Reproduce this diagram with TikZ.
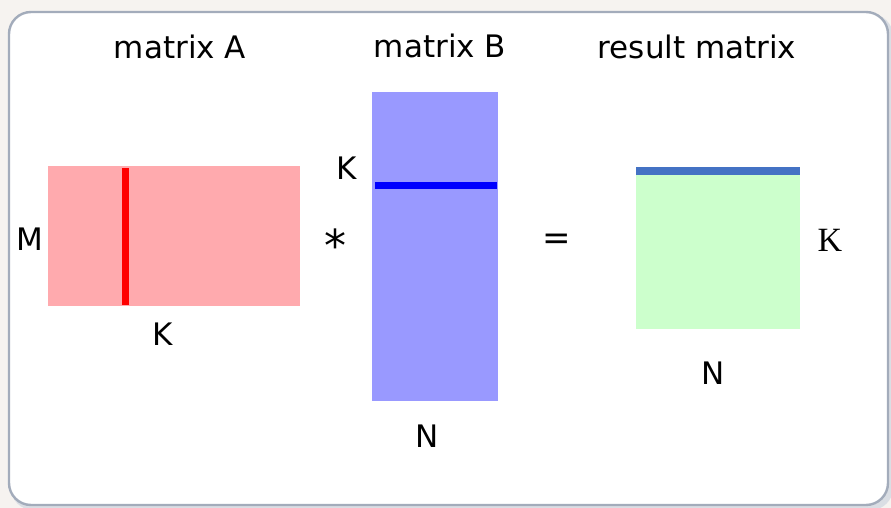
\documentclass[tikz,border=0pt]{standalone}
\usepackage{fontspec}
\setmainfont{DejaVu Sans}
\newfontfamily\serifK{Liberation Serif}
\usepackage{xcolor}
\usetikzlibrary{positioning}

\definecolor{pageback}{RGB}{246,243,240}
\definecolor{framegray}{RGB}{163,172,187}
\definecolor{pinkA}{RGB}{255,170,174}
\definecolor{blueB}{RGB}{153,153,255}
\definecolor{greenC}{RGB}{204,255,204}
\definecolor{rowblue}{RGB}{68,114,196}

\begin{document}
\begin{tikzpicture}[x=1pt, y=-1pt,
        lbl/.style={inner sep=0pt, font=\fontsize{31}{34}\selectfont},
        mat/.style={rectangle, inner sep=0pt, outer sep=0pt},
        bar/.style={line width=7pt}]
    \useasboundingbox (0,0) rectangle (891,508);
    \fill[pageback] (0,0) rectangle (891,508);
    % frame with a soft shadow
    \fill[framegray!40, rounded corners=22pt] (11,14) rectangle (893,510);
    \filldraw[fill=white, draw=framegray, line width=2.4pt, rounded corners=22pt] (9,12) rectangle (888,505);

    % titles
    \node (tA) [lbl] at (180,47) {matrix A};
    \node (tB) [lbl] at (440,46) {matrix B};
    \node (tC) [lbl] at (697,47) {result matrix};

    % the three matrices
    \node (matA) [mat, fill=pinkA, minimum width=252pt, minimum height=140pt] at (174,236) {};
    \node (matB) [mat, fill=blueB, minimum width=126pt, minimum height=309pt] at (435,246.5) {};
    \node (matC) [mat, fill=greenC, minimum width=164pt, minimum height=162pt] at (718,248) {};

    % column of A, row of B, row of result
    \draw[bar, red] (125.5,168) -- (125.5,305);
    \draw[bar, blue] (375,185.5) -- (497,185.5);
    \draw[line width=8pt, rowblue] (636,171) -- (800,171);

    % dimension labels
    \node (dM) [lbl] at (30,239) {M};
    \node (dKa) [lbl] at (163,334) {K};
    \node (dKb) [lbl] at (347,168) {K};
    \node (dNb) [lbl] at (427,436) {N};
    \node (dKc) [lbl, font=\serifK\fontsize{34}{36}\selectfont] at (830,240) {K};
    \node (dNc) [lbl] at (713,373) {N};

    % operators
    \node (op1) [lbl, font=\fontsize{44}{46}\selectfont] at (335,245) {*};
    \node (op2) [lbl, font=\fontsize{34}{36}\selectfont] at (557,242) {=};
\end{tikzpicture}
\end{document}
